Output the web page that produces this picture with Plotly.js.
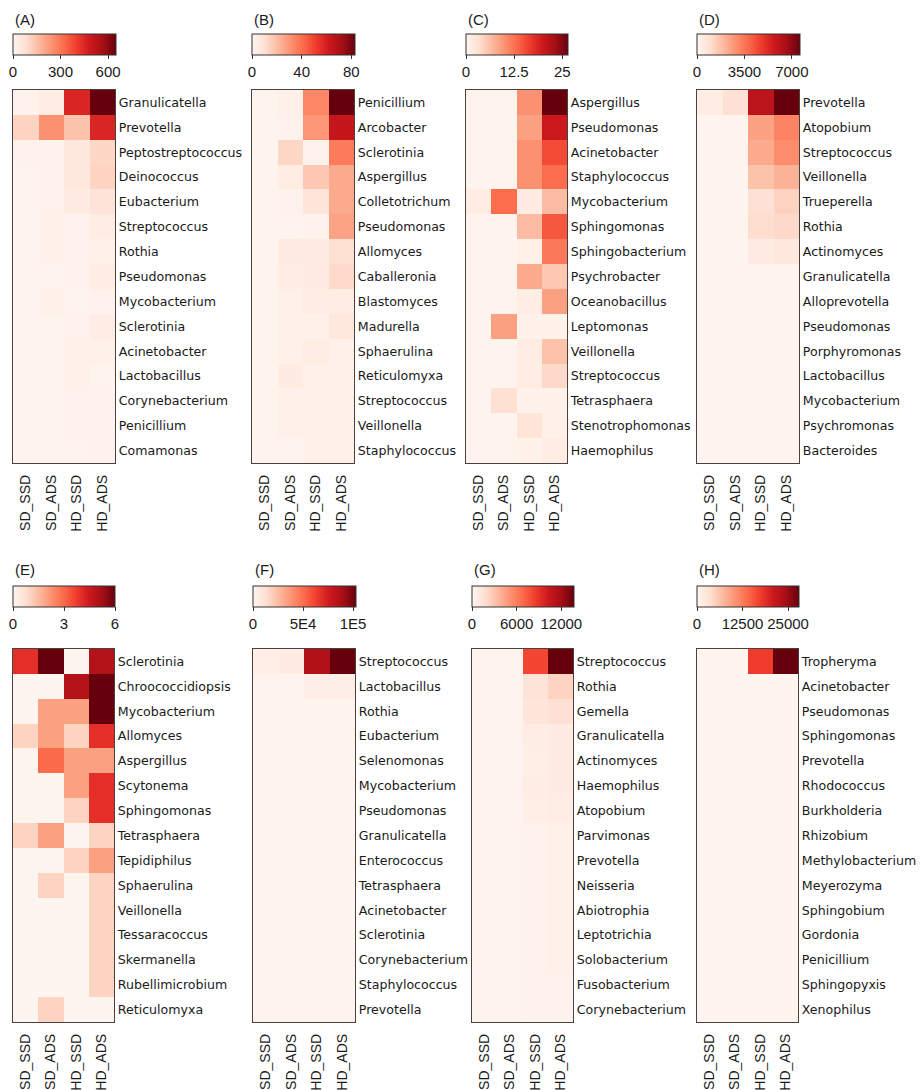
<!DOCTYPE html>
<html>
<head>
<meta charset="utf-8">
<script src="https://cdn.plot.ly/plotly-3.0.1.min.js"></script>
<style>html,body{margin:0;padding:0;background:#fff;}#chart{width:921px;height:1090px;}</style>
</head>
<body>
<div id="chart"></div>
<script>
// ---------- DATA ----------
const groups = ["SD_SSD", "SD_ADS", "HD_SSD", "HD_ADS"];

const namesA = ["Granulicatella","Prevotella","Peptostreptococcus","Deinococcus","Eubacterium","Streptococcus","Rothia","Pseudomonas","Mycobacterium","Sclerotinia","Acinetobacter","Lactobacillus","Corynebacterium","Penicillium","Comamonas"];
const valuesA = [[12,35,455,650],[110,245,145,455],[10,10,50,100],[6,10,50,110],[6,10,40,65],[6,20,12,35],[6,20,12,20],[6,6,10,35],[6,20,8,10],[6,8,10,30],[6,8,20,15],[6,6,20,8],[6,6,10,12],[6,6,12,10],[6,6,8,10]];
const scaleMaxA = 650;
const ticksA = [0, 300, 600];
const tickTextA = ["0", "300", "600"];

const namesB = ["Penicillium","Arcobacter","Sclerotinia","Aspergillus","Colletotrichum","Pseudomonas","Allomyces","Caballeronia","Blastomyces","Madurella","Sphaerulina","Reticulomyxa","Streptococcus","Veillonella","Staphylococcus"];
const valuesB = [[1,2,34,83],[1,1.5,30,64],[1,13,1.5,37],[1,4,17,25],[1,1.5,8,25],[1,1,1.5,27],[1,5,5,10],[1,4,5,12],[1,2,4,4],[1,2,2,7],[1,2,4,2],[1,5,2,2],[1,2,2,2],[1,2,2,2],[1,1,2,2]];
const scaleMaxB = 83;
const ticksB = [0, 40, 80];
const tickTextB = ["0", "40", "80"];

const namesC = ["Aspergillus","Pseudomonas","Acinetobacter","Staphylococcus","Mycobacterium","Sphingomonas","Sphingobacterium","Psychrobacter","Oceanobacillus","Leptomonas","Veillonella","Streptococcus","Tetrasphaera","Stenotrophomonas","Haemophilus"];
const valuesC = [[0.3,0.3,10,26.5],[0.3,0.3,8.8,20],[0.3,0.3,10,15.5],[0.3,0.3,10,13],[1.3,13,1.6,6.5],[0.3,0.3,6.5,14.5],[0.3,0.3,1,12],[0.3,0.3,8,5.5],[0.3,0.3,1.3,8.8],[0.3,8.8,0.5,0.5],[0.3,0.3,1.3,6],[0.3,0.3,1.3,4],[0.3,3.2,0.5,0.5],[0.3,0.3,2.6,0.8],[0.3,0.3,0.5,1.3]];
const scaleMaxC = 26.5;
const ticksC = [0, 12.5, 25];
const tickTextC = ["0", "12.5", "25"];

const namesD = ["Prevotella","Atopobium","Streptococcus","Veillonella","Trueperella","Rothia","Actinomyces","Granulicatella","Alloprevotella","Pseudomonas","Porphyromonas","Lactobacillus","Mycobacterium","Psychromonas","Bacteroides"];
const valuesD = [[380,900,6100,7600],[60,60,2500,3200],[60,80,2300,3000],[50,50,1700,2100],[50,50,900,1300],[50,50,1000,1150],[40,40,450,600],[40,40,60,60],[40,40,50,50],[40,40,50,50],[40,40,50,50],[40,40,50,50],[40,40,50,50],[40,40,50,50],[40,40,50,50]];
const scaleMaxD = 7600;
const ticksD = [0, 3500, 7000];
const tickTextD = ["0", "3500", "7000"];

const namesE = ["Sclerotinia","Chroococcidiopsis","Mycobacterium","Allomyces","Aspergillus","Scytonema","Sphingomonas","Tetrasphaera","Tepidiphilus","Sphaerulina","Veillonella","Tessaracoccus","Skermanella","Rubellimicrobium","Reticulomyxa"];
const valuesE = [[4,6,0,5],[0,0,5,6],[0,2,2,6],[1,2,1,4],[0,3,2,2],[0,0,2,4],[0,0,1,4],[1,2,0,1],[0,0,1,2],[0,1,0,1],[0,0,0,1],[0,0,0,1],[0,0,0,1],[0,0,0,1],[0,1,0,0]];
const scaleMaxE = 6;
const ticksE = [0, 3, 6];
const tickTextE = ["0", "3", "6"];

const namesF = ["Streptococcus","Lactobacillus","Rothia","Eubacterium","Selenomonas","Mycobacterium","Pseudomonas","Granulicatella","Enterococcus","Tetrasphaera","Acinetobacter","Sclerotinia","Corynebacterium","Staphylococcus","Prevotella"];
const valuesF = [[4000,6000,86000,103000],[1000,1000,4000,4000],[1000,1000,1200,1200],[1000,1000,1000,1000],[1000,1000,1000,1000],[1000,1000,1000,1000],[1000,1000,1000,1000],[1000,1000,1000,1000],[1000,1000,1000,1000],[1000,1000,1000,1000],[1000,1000,1000,1000],[1000,1000,1000,1000],[1000,1000,1000,1000],[1000,1000,1000,1000],[1000,1000,1000,1000]];
const scaleMaxF = 103000;
const ticksF = [0, 50000, 100000];
const tickTextF = ["0", "5E4", "1E5"];

const namesG = ["Streptococcus","Rothia","Gemella","Granulicatella","Actinomyces","Haemophilus","Atopobium","Parvimonas","Prevotella","Neisseria","Abiotrophia","Leptotrichia","Solobacterium","Fusobacterium","Corynebacterium"];
const valuesG = [[130,130,8200,13700],[130,130,1350,2300],[130,130,1200,1600],[130,130,700,800],[130,130,550,800],[130,130,650,800],[130,130,550,700],[130,130,300,350],[130,130,300,350],[130,130,300,350],[130,130,300,350],[130,130,300,350],[130,130,300,350],[130,130,300,300],[130,130,300,300]];
const scaleMaxG = 13700;
const ticksG = [0, 6000, 12000];
const tickTextG = ["0", "6000", "12000"];

const namesH = ["Tropheryma","Acinetobacter","Pseudomonas","Sphingomonas","Prevotella","Rhodococcus","Burkholderia","Rhizobium","Methylobacterium","Meyerozyma","Sphingobium","Gordonia","Penicillium","Sphingopyxis","Xenophilus"];
const valuesH = [[250,250,17500,28000],[250,250,250,250],[250,250,250,250],[250,250,250,250],[250,250,250,250],[250,250,250,250],[250,250,250,250],[250,250,250,250],[250,250,250,250],[250,250,250,250],[250,250,250,250],[250,250,250,250],[250,250,250,250],[250,250,250,250],[250,250,250,250]];
const scaleMaxH = 28000;
const ticksH = [0, 12500, 25000];
const tickTextH = ["0", "12500", "25000"];

const panelLabels = ["(A)","(B)","(C)","(D)","(E)","(F)","(G)","(H)"];

// ---------- STYLE / LAYOUT ----------
const W = 921, H = 1090;
const reds = [[0,"#fff5f0"],[0.125,"#fee0d2"],[0.25,"#fcbba1"],[0.375,"#fc9272"],[0.5,"#fb6a4a"],[0.625,"#ef3b2c"],[0.75,"#cb181d"],[0.875,"#a50f15"],[1,"#67000d"]];
const frameColor = "#4a4040";
const textColor = "#1a1a1a";

const panels = [
  {n: namesA, v: valuesA, max: scaleMaxA, tv: ticksA, tt: tickTextA},
  {n: namesB, v: valuesB, max: scaleMaxB, tv: ticksB, tt: tickTextB},
  {n: namesC, v: valuesC, max: scaleMaxC, tv: ticksC, tt: tickTextC},
  {n: namesD, v: valuesD, max: scaleMaxD, tv: ticksD, tt: tickTextD},
  {n: namesE, v: valuesE, max: scaleMaxE, tv: ticksE, tt: tickTextE},
  {n: namesF, v: valuesF, max: scaleMaxF, tv: ticksF, tt: tickTextF},
  {n: namesG, v: valuesG, max: scaleMaxG, tv: ticksG, tt: tickTextG},
  {n: namesH, v: valuesH, max: scaleMaxH, tv: ticksH, tt: tickTextH}
];
const xPix = [[13,115],[252,354],[466,567],[697,799],[13,114],[253,355],[472,573],[697,798]];
const rowGeom = [
  {top: 90, bottom: 463, cbTop: 34, label: 19},
  {top: 649, bottom: 1022, cbTop: 586, label: 569}
];

const data = [];
const layout = {
  width: W, height: H,
  margin: {l: 0, r: 0, t: 0, b: 0},
  paper_bgcolor: "#ffffff", plot_bgcolor: "#ffffff",
  showlegend: false,
  annotations: []
};

panels.forEach((p, i) => {
  const k = i + 1;
  const suffix = k === 1 ? "" : String(k);
  const row = rowGeom[i < 4 ? 0 : 1];
  const [xl, xr] = xPix[i];
  data.push({
    type: "heatmap",
    x: groups,
    y: p.n,
    z: p.v,
    zmin: 0,
    zmax: p.max,
    colorscale: reds,
    xgap: 0, ygap: 0,
    xaxis: "x" + suffix,
    yaxis: "y" + suffix,
    hoverinfo: "skip",
    colorbar: {
      orientation: "h",
      x: xl / W, xanchor: "left",
      y: 1 - row.cbTop / H, yanchor: "top",
      len: xr - xl + 1, lenmode: "pixels",
      thickness: 21, thicknessmode: "pixels",
      xpad: 0, ypad: 0,
      outlinewidth: 1, outlinecolor: "#333333",
      tickmode: "array", tickvals: p.tv, ticktext: p.tt,
      ticks: "outside", ticklen: 4, tickcolor: "#333333", tickwidth: 1,
      tickfont: {family: "Liberation Sans, Arial, sans-serif", size: 15, color: textColor}
    }
  });
  layout["xaxis" + suffix] = {
    domain: [xl / W, xr / W],
    anchor: "y" + suffix,
    type: "category",
    tickangle: -90,
    ticks: "",
    ticklabelstandoff: 5,
    showgrid: false, zeroline: false,
    showline: true, mirror: true, linecolor: frameColor, linewidth: 1.3,
    tickfont: {family: "Liberation Sans, Arial, sans-serif", size: 14, color: textColor},
    fixedrange: true
  };
  layout["yaxis" + suffix] = {
    domain: [1 - row.bottom / H, 1 - row.top / H],
    anchor: "x" + suffix,
    type: "category",
    autorange: "reversed",
    side: "right",
    ticks: "",
    ticklabelstandoff: 0,
    showgrid: false, zeroline: false,
    showline: true, mirror: true, linecolor: frameColor, linewidth: 1.3,
    tickfont: {family: "DejaVu Sans, sans-serif", size: 12.6, color: textColor},
    fixedrange: true
  };
  layout.annotations.push({
    text: panelLabels[i],
    xref: "paper", yref: "paper",
    x: xl / W, xanchor: "left",
    y: 1 - row.label / H, yanchor: "middle",
    showarrow: false,
    font: {family: "Liberation Sans, Arial, sans-serif", size: 15, color: textColor}
  });
});

Plotly.newPlot("chart", data, layout, {staticPlot: true, displayModeBar: false});
</script>
</body>
</html>
